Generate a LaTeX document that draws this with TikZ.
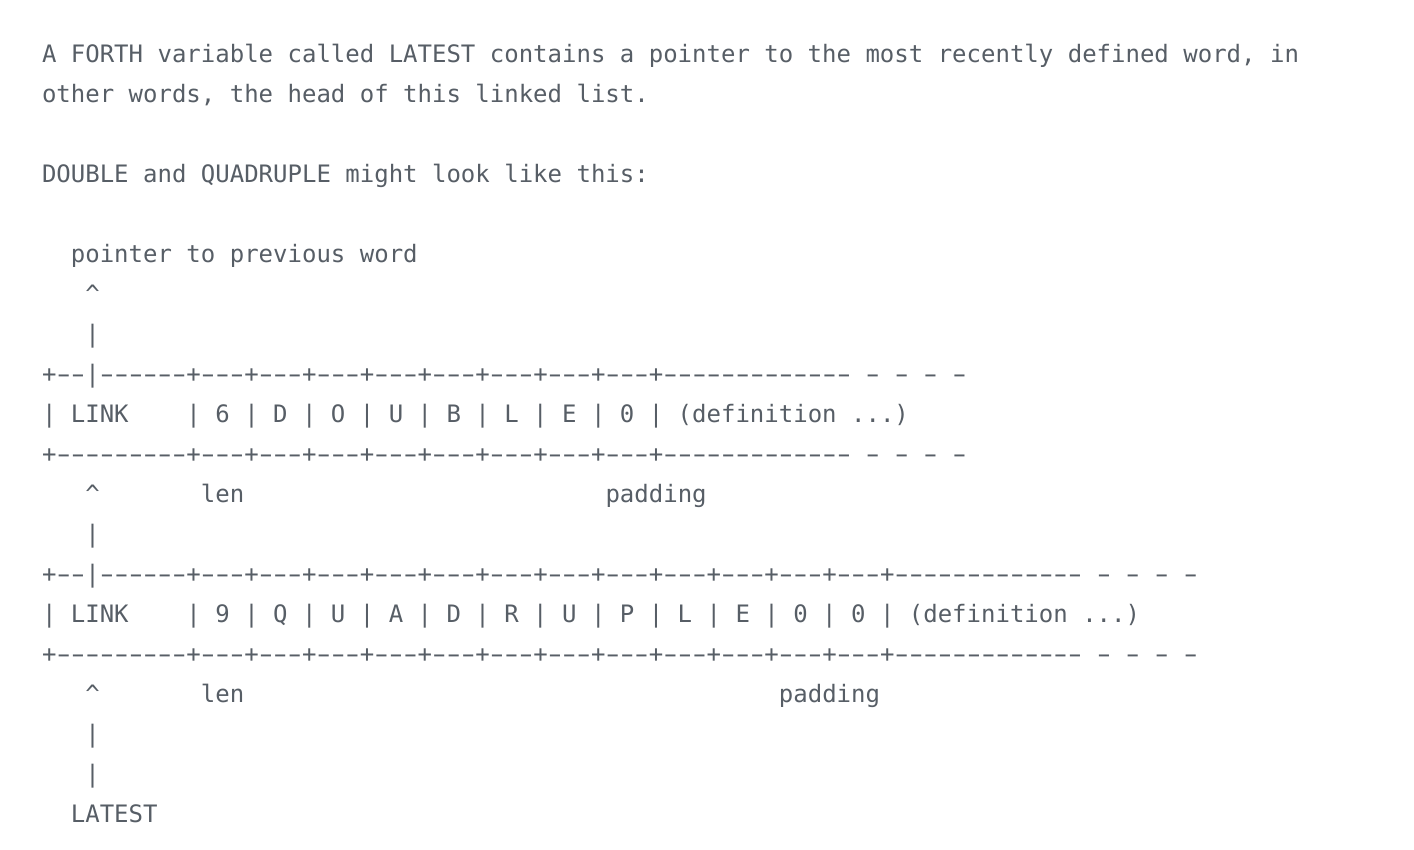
\documentclass[tikz,border=0pt]{standalone}
\usepackage{fontspec}
\usepackage{graphicx}
\setmonofont{DejaVu Sans Mono}
\definecolor{txt}{HTML}{575E66}
\newcommand\dgfont{\ttfamily\fontsize{24}{24}\selectfont}
\newcommand\hy{\hbox to \fontcharwd\font`\-{\hss\scalebox{1.65}[1]{-}\hss}}
\newcommand\hys[1]{\foreach\i in {1,...,#1}{\hy}}
\newcommand\cell{\hys{3}+}
\tikzset{
  asciiln/.style={anchor=base west, inner sep=0pt, outer sep=0pt, text=txt, font=\dgfont}
}
\newcommand\asciiline[3]{\node[asciiln] (#1) at (42,{787.7-40*#2}) {#3};}
\begin{document}
\begin{tikzpicture}[x=1pt,y=1pt]
\fill[white] (0,0) rectangle (1414,850);
\useasboundingbox (0,0) rectangle (1414,850);
\asciiline{p1}{0}{A FORTH variable called LATEST contains a pointer to the most recently defined word, in}
\asciiline{p2}{1}{other words, the head of this linked list.}
\asciiline{p3}{3}{DOUBLE and QUADRUPLE might look like this:}
\asciiline{l5}{5}{~~pointer to previous word}
\asciiline{l6}{6}{~~~\textasciicircum}
\asciiline{l7}{7}{~~~|}
\asciiline{l8}{8}{+\hys{2}|\hys{6}+\cell\cell\cell\cell\cell\cell\cell\cell\hys{13}~\hy~\hy~\hy~\hy}
\asciiline{l9}{9}{|~LINK~~~~|~6~|~D~|~O~|~U~|~B~|~L~|~E~|~0~|~(definition~...)}
\asciiline{l10}{10}{+\hys{9}+\cell\cell\cell\cell\cell\cell\cell\cell\hys{13}~\hy~\hy~\hy~\hy}
\asciiline{l11}{11}{~~~\textasciicircum~~~~~~~len~~~~~~~~~~~~~~~~~~~~~~~~~padding}
\asciiline{l12}{12}{~~~|}
\asciiline{l13}{13}{+\hys{2}|\hys{6}+\cell\cell\cell\cell\cell\cell\cell\cell\cell\cell\cell\cell\hys{13}~\hy~\hy~\hy~\hy}
\asciiline{l14}{14}{|~LINK~~~~|~9~|~Q~|~U~|~A~|~D~|~R~|~U~|~P~|~L~|~E~|~0~|~0~|~(definition~...)}
\asciiline{l15}{15}{+\hys{9}+\cell\cell\cell\cell\cell\cell\cell\cell\cell\cell\cell\cell\hys{13}~\hy~\hy~\hy~\hy}
\asciiline{l16}{16}{~~~\textasciicircum~~~~~~~len~~~~~~~~~~~~~~~~~~~~~~~~~~~~~~~~~~~~~padding}
\asciiline{l17}{17}{~~~|}
\asciiline{l18}{18}{~~~|}
\asciiline{l19}{19}{~~LATEST}
\end{tikzpicture}
\end{document}
